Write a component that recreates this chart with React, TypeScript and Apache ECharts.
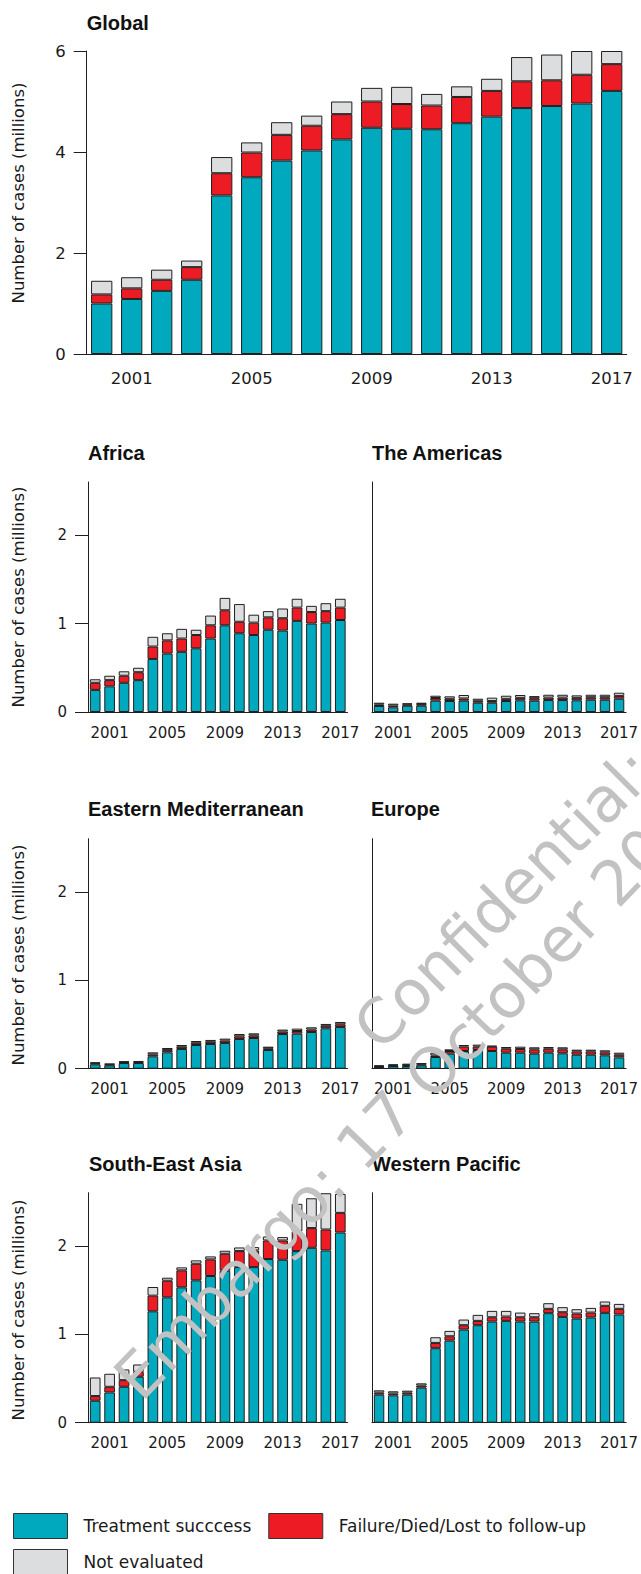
import React, { useEffect, useRef } from "react";
import * as echarts from "echarts";

const years = ["2000","2001","2002","2003","2004","2005","2006","2007","2008","2009","2010","2011","2012","2013","2014","2015","2016","2017"];
const shownYearLabels = ["2001", "2005", "2009", "2013", "2017"];
const globalTicks = [0, 2, 4, 6];
const regionTicks = [0, 1, 2];

const seriesNames = ["Treatment succcess", "Failure/Died/Lost to follow-up", "Not evaluated"];

// values in millions of cases
const globalSuccess = [1.00,1.09,1.25,1.47,3.14,3.50,3.83,4.03,4.25,4.48,4.46,4.45,4.57,4.70,4.87,4.91,4.96,5.21];
const globalFailure = [0.18,0.21,0.22,0.25,0.44,0.49,0.51,0.49,0.50,0.52,0.49,0.47,0.52,0.51,0.53,0.51,0.57,0.53];
const globalNotEval = [0.27,0.22,0.20,0.13,0.32,0.20,0.25,0.20,0.25,0.27,0.34,0.23,0.21,0.24,0.48,0.51,0.47,0.26];

const africaSuccess = [0.25,0.29,0.33,0.36,0.60,0.66,0.68,0.72,0.83,0.98,0.89,0.87,0.93,0.92,1.03,1.00,1.01,1.04];
const africaFailure = [0.08,0.07,0.08,0.09,0.14,0.15,0.15,0.15,0.15,0.17,0.13,0.14,0.14,0.14,0.15,0.13,0.13,0.14];
const africaNotEval = [0.04,0.05,0.05,0.05,0.11,0.08,0.11,0.06,0.11,0.14,0.20,0.09,0.07,0.11,0.10,0.07,0.09,0.10];

const americasSuccess = [0.068,0.053,0.071,0.071,0.128,0.124,0.128,0.105,0.105,0.124,0.132,0.128,0.135,0.135,0.132,0.139,0.139,0.150];
const americasFailure = [0.018,0.020,0.015,0.018,0.030,0.025,0.025,0.022,0.020,0.025,0.028,0.028,0.028,0.028,0.028,0.028,0.028,0.032];
const americasNotEval = [0.019,0.021,0.012,0.016,0.026,0.028,0.039,0.023,0.037,0.035,0.032,0.024,0.032,0.032,0.028,0.028,0.028,0.036];

const emrSuccess = [0.049,0.038,0.064,0.064,0.140,0.185,0.223,0.268,0.279,0.291,0.336,0.347,0.211,0.392,0.396,0.415,0.457,0.472];
const emrFailure = [0.012,0.010,0.010,0.012,0.022,0.025,0.025,0.025,0.025,0.027,0.030,0.030,0.020,0.028,0.030,0.028,0.028,0.030];
const emrNotEval = [0.011,0.009,0.009,0.011,0.023,0.024,0.020,0.020,0.021,0.022,0.026,0.023,0.018,0.022,0.027,0.025,0.021,0.026];

const europeSuccess = [0.019,0.030,0.030,0.038,0.132,0.170,0.200,0.211,0.200,0.181,0.181,0.170,0.181,0.174,0.158,0.158,0.151,0.128];
const europeFailure = [0.008,0.008,0.010,0.010,0.018,0.030,0.050,0.038,0.049,0.045,0.042,0.049,0.045,0.045,0.038,0.038,0.034,0.030];
const europeNotEval = [0.011,0.011,0.017,0.016,0.031,0.019,0.018,0.023,0.011,0.019,0.026,0.023,0.019,0.023,0.019,0.019,0.023,0.023];

const seaSuccess = [0.248,0.342,0.406,0.519,1.259,1.417,1.530,1.609,1.658,1.718,1.759,1.759,1.850,1.842,1.940,1.977,1.947,2.150];
const seaFailure = [0.053,0.064,0.075,0.056,0.177,0.188,0.192,0.188,0.188,0.192,0.181,0.188,0.210,0.218,0.222,0.223,0.237,0.222];
const seaNotEval = [0.210,0.147,0.121,0.083,0.098,0.034,0.034,0.038,0.034,0.034,0.041,0.038,0.045,0.038,0.312,0.337,0.410,0.214];

const wprSuccess = [0.317,0.309,0.317,0.396,0.842,0.928,1.053,1.102,1.143,1.151,1.143,1.143,1.238,1.196,1.177,1.189,1.242,1.223];
const wprFailure = [0.023,0.021,0.023,0.024,0.060,0.049,0.049,0.049,0.049,0.049,0.049,0.049,0.049,0.053,0.057,0.056,0.079,0.064];
const wprNotEval = [0.026,0.025,0.022,0.025,0.064,0.061,0.064,0.068,0.072,0.064,0.053,0.046,0.064,0.057,0.049,0.053,0.049,0.056];

const COLORS = ["#00a9be", "#ed1c24", "#dcdddf"];
const DARK = "#1f1f1f";
const AXIS_FONT = "DejaVu Sans";
const TITLE_FONT = "Liberation Sans";

const panels = [
  { title: "Global", data: [globalSuccess, globalFailure, globalNotEval], grid: { left: 86.7, top: 51, width: 540, height: 303 }, titlePos: [86.7, 13], global: true, yLabels: true },
  { title: "Africa", data: [africaSuccess, africaFailure, africaNotEval], grid: { left: 88, top: 482, width: 259.5, height: 230 }, titlePos: [88, 443], yLabels: true },
  { title: "The Americas", data: [americasSuccess, americasFailure, americasNotEval], grid: { left: 372, top: 482, width: 259.5, height: 230 }, titlePos: [372, 443], yLabels: false },
  { title: "Eastern Mediterranean", data: [emrSuccess, emrFailure, emrNotEval], grid: { left: 88, top: 838.7, width: 259.5, height: 230 }, titlePos: [88, 799], yLabels: true },
  { title: "Europe", data: [europeSuccess, europeFailure, europeNotEval], grid: { left: 372, top: 838.7, width: 259.5, height: 230 }, titlePos: [371, 799], yLabels: false },
  { title: "South-East Asia", data: [seaSuccess, seaFailure, seaNotEval], grid: { left: 88, top: 1192.7, width: 259.5, height: 230 }, titlePos: [89, 1154], yLabels: true },
  { title: "Western Pacific", data: [wprSuccess, wprFailure, wprNotEval], grid: { left: 372, top: 1192.7, width: 259.5, height: 230 }, titlePos: [372, 1154], yLabels: false },
];

const yNameCenters = [193, 597, 955, 1310];

export default function App() {
  const ref = useRef<HTMLDivElement>(null);

  useEffect(() => {
    if (!ref.current) return;
    const chart = echarts.init(ref.current, undefined, { renderer: "svg" });

    const grid = panels.map((p) => ({ ...p.grid, containLabel: false }));
    const title = panels.map((p) => ({
      text: p.title,
      left: p.titlePos[0],
      top: p.titlePos[1],
      padding: 0,
      textStyle: { fontFamily: TITLE_FONT, fontWeight: "bold", fontSize: 20, color: "#111" },
    }));

    const xAxis = panels.map((p, i) => ({
      type: "category",
      gridIndex: i,
      data: years,
      axisLine: { show: true, lineStyle: { color: DARK, width: 1 } },
      axisTick: { show: false },
      axisLabel: {
        interval: (_idx: number, value: string) => shownYearLabels.includes(value),
        fontFamily: AXIS_FONT,
        fontSize: p.global ? 16.5 : 15,
        color: "#1a1a1a",
        margin: p.global ? 16 : 13,
      },
    }));

    const yAxis = panels.map((p, i) => {
      const ticks = p.global ? globalTicks : regionTicks;
      return {
        type: "value",
        gridIndex: i,
        min: 0,
        max: p.global ? 6 : 2.6,
        interval: p.global ? 2 : 1,
        splitLine: { show: false },
        axisLine: { show: true, lineStyle: { color: DARK, width: 1 } },
        axisTick: p.yLabels
          ? { show: true, length: 13, lineStyle: { color: DARK }, customValues: ticks }
          : { show: false },
        axisLabel: p.yLabels
          ? { show: true, customValues: ticks, fontFamily: AXIS_FONT, fontSize: p.global ? 16.5 : 15, color: "#1a1a1a", margin: 21 }
          : { show: false },
      };
    });

    const series: any[] = [];
    panels.forEach((p, i) => {
      p.data.forEach((vals, k) => {
        series.push({
          type: "bar",
          name: seriesNames[k],
          xAxisIndex: i,
          yAxisIndex: i,
          stack: "s" + i,
          data: vals,
          barWidth: p.global ? "71%" : "74%",
          itemStyle: { color: COLORS[k], borderColor: DARK, borderWidth: 1 },
          emphasis: { disabled: true },
        });
      });
    });

    const graphic: any[] = yNameCenters.map((cy) => ({
      type: "text",
      x: 18.5,
      y: cy,
      rotation: Math.PI / 2,
      silent: true,
      style: {
        text: "Number of cases (millions)",
        fontFamily: AXIS_FONT,
        fontSize: 16.5,
        fill: "#1a1a1a",
        align: "center",
        verticalAlign: "middle",
      },
    }));

    graphic.push(
      {
        type: "text",
        x: 126,
        y: 1388,
        rotation: (46 * Math.PI) / 180,
        z: 100,
        silent: true,
        style: { text: "Embargo: 17 October 2018", fontFamily: AXIS_FONT, fontSize: 62, fill: "#c2c2c2", align: "left", verticalAlign: "middle" },
      },
      {
        type: "text",
        x: 365,
        y: 1038,
        rotation: (45 * Math.PI) / 180,
        z: 100,
        silent: true,
        style: { text: "Confidential: Do not distribute", fontFamily: AXIS_FONT, fontSize: 62, fill: "#c2c2c2", align: "left", verticalAlign: "middle" },
      }
    );

    const legendCommon = {
      orient: "horizontal",
      icon: "rect",
      itemWidth: 54,
      itemHeight: 25,
      selectedMode: false,
      padding: 0,
      itemStyle: { borderColor: "#333", borderWidth: 1 },
      textStyle: { fontFamily: AXIS_FONT, fontSize: 17, color: "#1a1a1a", padding: [0, 0, 0, 11] },
    };

    chart.setOption({
      animation: false,
      backgroundColor: "#ffffff",
      title,
      grid,
      xAxis,
      yAxis,
      series,
      graphic,
      legend: [
        { ...legendCommon, left: 13, top: 1513, itemGap: 17, data: [seriesNames[0], seriesNames[1]] },
        { ...legendCommon, left: 13, top: 1549, data: [seriesNames[2]] },
      ],
    });

    return () => chart.dispose();
  }, []);

  return (
    <div
      ref={ref}
      style={{ position: "absolute", left: 0, top: 0, width: 641, height: 1574, background: "#fff" }}
    />
  );
}
